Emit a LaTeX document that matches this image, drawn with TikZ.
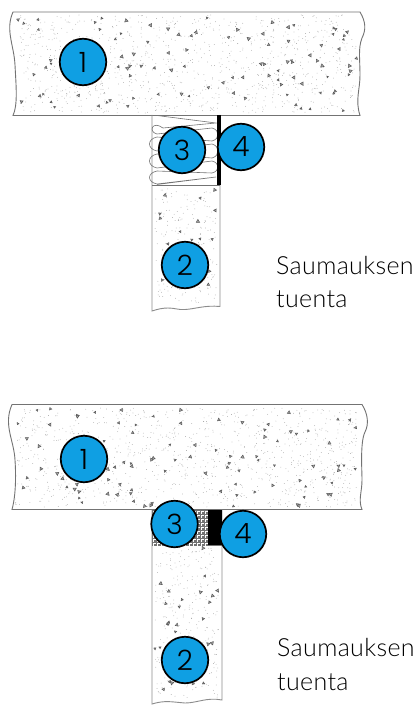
\documentclass[tikz,border=0pt]{standalone}
\usepackage{fontspec}
\setmainfont{Lato}[UprightFont=* Light,LetterSpace=1.4]
\newfontfamily\digitfont{Poppins}[UprightFont=* Light]
\definecolor{markblue}{HTML}{0F9FE3}
\tikzset{
  x=1pt,y=-1pt,
  outline/.style={draw=black!55,line width=0.9pt},
  thinline/.style={draw=black!55,line width=0.6pt},
  marker/.style={circle,draw=black,line width=1.7pt,fill=markblue,minimum size=46.5pt,inner sep=0pt,font=\digitfont\fontsize{28}{28}\selectfont},
  caption/.style={anchor=base west,inner sep=0pt,font=\fontsize{25}{25}\selectfont},
}
\newcommand{\speckle}[5]{%
  \foreach \i in {1,...,#5}{%
    \pgfmathsetmacro{\px}{#1+rnd*(#2-#1)}%
    \pgfmathsetmacro{\py}{#3+rnd*(#4-#3)}%
    \pgfmathsetmacro{\pr}{rnd*360}%
    \pgfmathsetmacro{\ps}{1.8+rnd*1.7}%
    \draw[black!65,line width=0.5pt,fill=black!35] (\px,\py) -- ++(\pr:\ps) -- ++(\pr+120:\ps) -- cycle;
  }%
  \pgfmathtruncatemacro{\nd}{#5*10}%
  \foreach \i in {1,...,\nd}{%
    \pgfmathsetmacro{\px}{#1+rnd*(#2-#1)}%
    \pgfmathsetmacro{\py}{#3+rnd*(#4-#3)}%
    \fill[black!40] (\px,\py) circle[radius=0.38];
  }%
}
\begin{document}
\begin{tikzpicture}
\pgfmathsetseed{4711}
\useasboundingbox (0,0) rectangle (416,706);
\fill[white] (0,0) rectangle (416,706);
% upper detail
\speckle{18}{356}{15}{113}{100}
\speckle{155}{217}{188}{304}{22}
\draw[outline] (13,12) -- (360,12) .. controls (366,22) and (366,30) .. (362,38) .. controls (358,48) and (360,60) .. (360,75) .. controls (360,90) and (355,100) .. (360,115.5) -- (13,115.5) .. controls (18,105) and (16,85) .. (15,65) .. controls (14,45) and (5,30) .. cycle;
\draw[outline,draw=black!45] (152,115) -- (152,311) .. controls (158,309) and (163,308) .. (168,308) .. controls (175,308) and (178,310) .. (185,309.5) .. controls (195,309) and (205,305) .. (220,306.5) -- (220,115);
\draw[thinline] (152,185) -- (220,185);
\draw[thinline]
  (157,115.5) -- (216,123) -- (163,128) .. controls (152,120) and (148,132) .. (157,134)
  -- (212,128) .. controls (220,130) and (220,139) .. (212,141)
  -- (157,137) .. controls (147,139) and (147,149) .. (157,151)
  -- (212,144) .. controls (220,146) and (220,156) .. (212,158)
  -- (157,154) .. controls (147,156) and (147,166) .. (157,168)
  -- (212,161) .. controls (220,163) and (220,171) .. (212,173)
  -- (157,171) .. controls (147,173) and (147,182) .. (157,184)
  -- (216,177) -- (157,184.5);
\fill[black] (216.5,115) rectangle (220.5,185);
% lower detail
\speckle{15}{357}{408}{507}{100}
\speckle{155}{219}{548}{698}{28}
\draw[outline] (12,404.5) -- (362,404.5) .. controls (368,414) and (369,424) .. (365,432) .. controls (360,442) and (362,470) .. (362,480) .. controls (362,492) and (358,500) .. (362,509.5) -- (12,509.5) .. controls (16,495) and (16,475) .. (15,460) .. controls (14,440) and (3,425) .. cycle;
\draw[outline,draw=black!45] (152,509.5) -- (152,704) .. controls (165,700) and (172,702) .. (185,703) .. controls (197,703) and (207,697) .. (222,700) -- (222,509.5);
\draw[thinline] (152,545) -- (222,545);
\fill[black!55] (152,510) rectangle (208,545);
\foreach \gx in {0,...,13}{\foreach \gy in {0,...,8}{%
  \fill[white] (153+4*\gx,511+4*\gy) rectangle ++(2.6,1.2);
  \fill[white] (153+4*\gx,511+4*\gy) rectangle ++(1.2,2.6);
}}
\fill[black] (208,510) rectangle (222,545);
% markers
\node[marker] (a1) at (83,62) {1};
\node[marker] (a3) at (182,150) {3};
\node[marker] (a4) at (241,147) {4};
\node[marker] (a2) at (185,265) {2};
\node[marker] (b1) at (84,459) {1};
\node[marker] (b3) at (174.5,524) {3};
\node[marker] (b4) at (243,534) {4};
\node[marker] (b2) at (185,660) {2};
% captions
\node[caption] (c1) at (276,274) {Saumauksen};
\node[caption] (c2) at (276,307) {tuenta};
\node[caption] (d1) at (277,656) {Saumauksen};
\node[caption] (d2) at (277,690) {tuenta};
\end{tikzpicture}
\end{document}
